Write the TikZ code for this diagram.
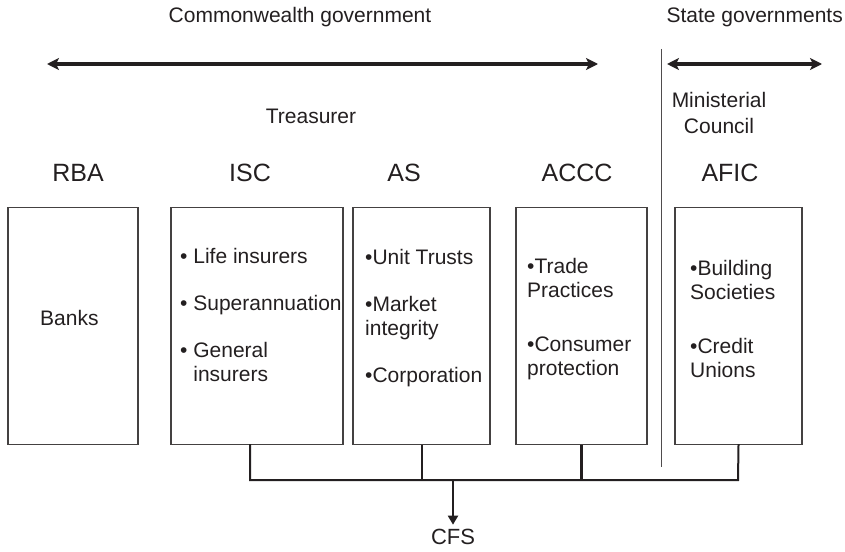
\documentclass[tikz,border=0pt]{standalone}
\usepackage{fontspec}
\setmainfont{Liberation Sans}
\usetikzlibrary{arrows.meta}
\definecolor{ink}{HTML}{231F20}
\begin{document}
\begin{tikzpicture}[x=1pt, y=-1pt, every node/.style={text=ink},
    body/.style={draw=ink!85, line width=1.2pt, minimum width=#1,
      minimum height=237pt, inner sep=0pt},
    head/.style={font=\fontsize{25}{28}\selectfont},
    list/.style={font=\fontsize{21}{24}\selectfont, align=left,
      anchor=west, inner sep=0pt},
    title/.style={font=\fontsize{21}{26}\selectfont, align=center},
    span/.style={{Stealth[length=12pt,width=12pt,inset=3pt]}-{Stealth[length=12pt,width=12pt,inset=3pt]},
      line width=4.5pt, draw=ink},
    bus/.style={draw=ink, line width=2pt}]
  \useasboundingbox (0,0) rectangle (845,551);
  % government levels
  \node[title] (cw) at (300,17) {Commonwealth government};
  \node[title, anchor=east, inner xsep=0pt] (st) at (843,17) {State governments};
  \coordinate (cw1) at (47,64); \coordinate (cw2) at (598,64);
  \coordinate (st1) at (667,64); \coordinate (st2) at (822,64);
  \draw[span] (cw1) -- (cw2); \draw[span] (st1) -- (st2);
  \coordinate (d1) at (661,49); \coordinate (d2) at (661,467);
  \draw[draw=ink!80, line width=1pt] (d1) -- (d2);
  \node[title] (tr) at (311,116) {Treasurer};
  \node[title] (mc) at (719,113) {Ministerial\\Council};

  % regulators
  \begin{scope}[every node/.style={body=130pt}]
    \node (rba) at (73,326) {}; \node[body=172pt] (isc) at (257,326) {};
    \node[body=137pt] (as) at (421.5,326) {}; \node[body=131pt] (accc)
    at (581.5,326) {}; \node[body=127pt] (afic) at (738.5,326) {};
  \end{scope}
  \node[head] at (78,173) {RBA}; \node[head] at (250,173) {ISC};
  \node[head] at (404,173) {AS}; \node[head] at (577,173) {ACCC};
  \node[head] at (730,173) {AFIC};

  \node[list] (banks) at (40,318) {Banks};
  \node[list] (isct) at (180,315) {\textbullet{} Life insurers\\[23pt]
    \textbullet{} Superannuation\\[23pt] \textbullet{} General\\
    \phantom{\textbullet{} }insurers};
  \node[list] (ast) at (365,318) {\textbullet Unit Trusts\\[23pt]
    \textbullet Market\\ integrity\\[23pt] \textbullet Corporation};
  \node[list] (accct) at (527,319) {\textbullet Trade\\ Practices\\[30pt]
    \textbullet Consumer\\ protection};
  \node[list] (afict) at (690,319) {\textbullet Building\\ Societies\\[30pt]
    \textbullet Credit\\ Unions};

  % reporting lines
  \coordinate (b1) at (250,480); \coordinate (b2) at (738,480);
  \coordinate (bc) at (453,480);
  \node[head, font=\fontsize{22}{24}\selectfont] (cfs) at (453,537) {CFS};
  \draw[bus, line cap=rect] ([xshift=-7pt]isc.south) -- (b1) -- (b2) --
  (afic.south);
  \draw[bus] (as.south) -- (as.south |- b1);
  \draw[bus, line width=3pt] (accc.south) -- (accc.south |- b1);
  \draw[bus, -{Triangle[length=9pt,width=10pt]}, shorten >=1pt] (bc) --
  (cfs.north);
\end{tikzpicture}
\end{document}
